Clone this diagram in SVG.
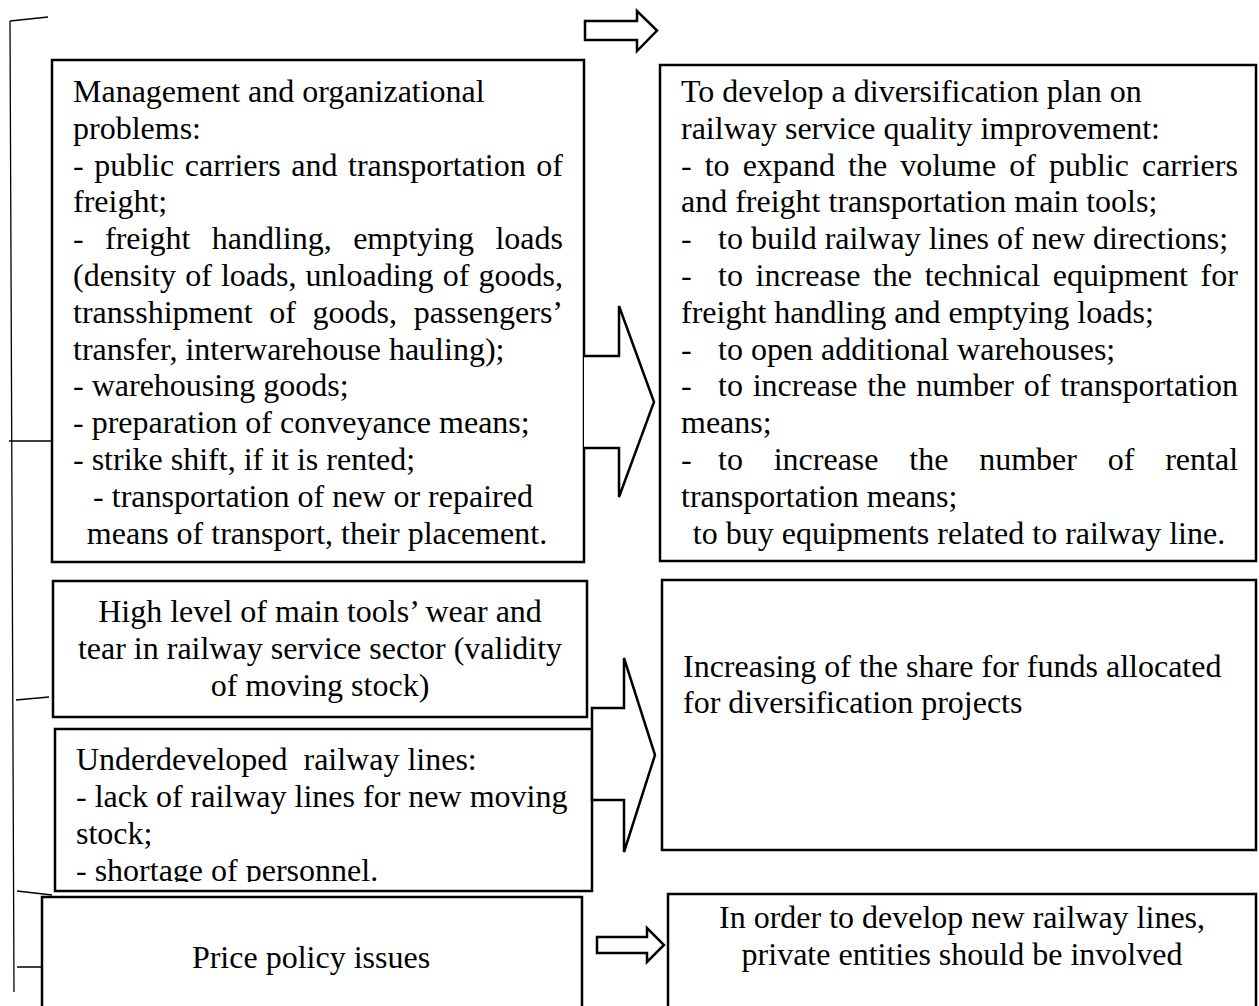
<svg xmlns="http://www.w3.org/2000/svg" width="1259" height="1006" viewBox="0 0 1259 1006">
<style>
.box{fill:#fff;stroke:#000;stroke-width:2.5}
.t{font-family:"Liberation Serif","Times New Roman",serif;font-size:32px;fill:#000}
.c{text-anchor:middle}
.arrow{fill:#fff;stroke:#000;stroke-width:2.5;stroke-linejoin:miter}
.br{stroke:#000;stroke-width:1.3;fill:none}
</style>
<defs>
<clipPath id="clipE"><rect x="55" y="729" width="537" height="153"/></clipPath>
</defs>
<rect width="1259" height="1006" fill="#fff"/>

<g id="connectors">
<path class="br" d="M10,21 L14,992 M10,21 L48,17 M9,441 L53,441 M16,700 L49,697 M17,891 L52,895 M17,967 L53,967"/>
<polygon class="arrow" points="585,21 637,21 637,11 657,30.5 637,51 637,40 585,40"/>
<polygon class="arrow" points="597,937 647,937 647,928 664,945 647,962 647,953 597,953"/>
</g>

<g id="node-management">
<rect class="box" x="52" y="60" width="532" height="502"/>
<text class="t" x="73" y="102">Management and organizational</text>
<text class="t" x="73" y="138.8">problems:</text>
<text class="t" x="73" y="175.6" style="word-spacing:2.56px">- public carriers and transportation of</text>
<text class="t" x="73" y="212.4">freight;</text>
<text class="t" x="73" y="249.2" style="word-spacing:13.4px">- freight handling, emptying loads</text>
<text class="t" x="73" y="286" style="word-spacing:1.1px">(density of loads, unloading of goods,</text>
<text class="t" x="73" y="322.8" style="word-spacing:8.7px">transshipment of goods, passengers’</text>
<text class="t" x="73" y="359.6">transfer, interwarehouse hauling);</text>
<text class="t" x="73" y="396.4">- warehousing goods;</text>
<text class="t" x="73" y="433.2">- preparation of conveyance means;</text>
<text class="t" x="73" y="470">- strike shift, if it is rented;</text>
<text class="t c" x="313" y="506.8">- transportation of new or repaired</text>
<text class="t c" x="317" y="543.6">means of transport, their placement.</text>
</g>

<g id="node-plan">
<rect class="box" x="660" y="65" width="596" height="496"/>
<text class="t" x="681" y="102">To develop a diversification plan on</text>
<text class="t" x="681" y="138.8">railway service quality improvement:</text>
<text class="t" x="681" y="175.6" style="word-spacing:5.04px">- to expand the volume of public carriers</text>
<text class="t" x="681" y="212.4">and freight transportation main tools;</text>
<text class="t" y="249.2"><tspan x="681">-</tspan><tspan x="718">to build railway lines of new directions;</tspan></text>
<text class="t" y="286"><tspan x="681">-</tspan><tspan x="718" style="word-spacing:4.64px">to increase the technical equipment for</tspan></text>
<text class="t" x="681" y="322.8">freight handling and emptying loads;</text>
<text class="t" y="359.6"><tspan x="681">-</tspan><tspan x="718">to open additional warehouses;</tspan></text>
<text class="t" y="396.4"><tspan x="681">-</tspan><tspan x="718" style="word-spacing:1.8px">to increase the number of transportation</tspan></text>
<text class="t" x="681" y="433.2">means;</text>
<text class="t" y="470"><tspan x="681">-</tspan><tspan x="718" style="word-spacing:22.8px">to increase the number of rental</tspan></text>
<text class="t" x="681" y="506.8">transportation means;</text>
<text class="t c" x="959" y="543.6">to buy equipments related to railway line.</text>
</g>

<g id="node-wear">
<rect class="box" x="53" y="581" width="534" height="136"/>
<text class="t c" x="320" y="622">High level of main tools’ wear and</text>
<text class="t c" x="320" y="659">tear in railway service sector (validity</text>
<text class="t c" x="320" y="696">of moving stock)</text>
</g>

<g id="node-underdeveloped">
<rect class="box" x="55" y="729" width="537" height="162"/>
<g clip-path="url(#clipE)">
<text class="t" x="76" y="770" xml:space="preserve">Underdeveloped  railway lines:</text>
<text class="t" x="76" y="807">- lack of railway lines for new moving</text>
<text class="t" x="76" y="844">stock;</text>
<text class="t" x="76" y="881">- shortage of personnel.</text>
</g>
</g>

<g id="node-funds">
<rect class="box" x="662" y="580" width="594" height="270"/>
<text class="t" x="683" y="677">Increasing of the share for funds allocated</text>
<text class="t" x="683" y="713">for diversification projects</text>
</g>

<g id="node-price">
<rect class="box" x="42" y="897" width="540" height="130"/>
<text class="t c" x="311" y="968">Price policy issues</text>
</g>

<g id="node-private">
<rect class="box" x="668" y="894" width="588" height="130"/>
<text class="t c" x="962" y="928">In order to develop new railway lines,</text>
<text class="t c" x="962" y="965">private entities should be involved</text>
</g>

<g id="connectors-big">
<polyline class="arrow" points="584,356 619,356 619,306 654,402 619,497 619,448 584,448"/>
<polygon class="arrow" points="592,708 624,708 624,658 655,755 624,852 624,800 592,800"/>
</g>
</svg>
